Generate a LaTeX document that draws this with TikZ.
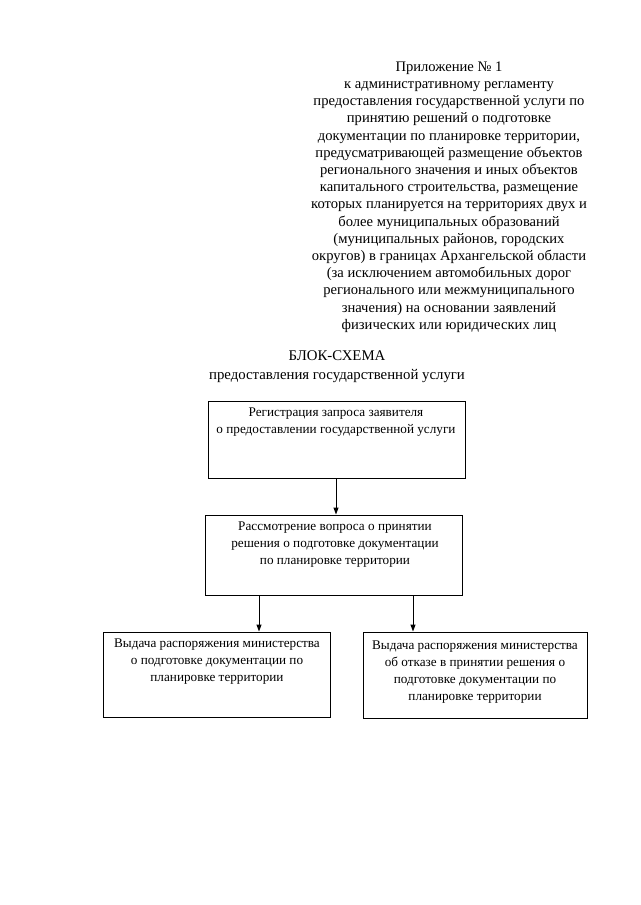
\documentclass[tikz,border=0pt]{standalone}
\usepackage{fontspec}
\setmainfont{Liberation Serif}
\usetikzlibrary{arrows.meta}
\begin{document}
\begin{tikzpicture}[x=1pt,y=-1pt,
  box/.style={draw, line width=1pt, inner sep=0pt},
  txt/.style={align=center, inner sep=0pt, font=\fontsize{13.2}{17}\selectfont},
  hdr/.style={align=center, inner sep=0pt, font=\fontsize{14.6}{17.2}\selectfont},
  ttl/.style={align=center, inner sep=0pt, font=\fontsize{14.8}{19}\selectfont},
  arr/.style={line width=1pt, -{Triangle[length=7pt,width=5pt]}},
  ln/.style={line width=1pt}]
\useasboundingbox (0,0) rectangle (640,905);
\fill[white] (0,0) rectangle (640,905);

\node[hdr] (head) at (449,197) {Приложение № 1\\
к административному регламенту\\
предоставления государственной услуги по\\
принятию решений о подготовке\\
документации по планировке территории,\\
предусматривающей размещение объектов\\
регионального значения и иных объектов\\
капитального строительства, размещение\\
которых планируется на территориях двух и\\
более муниципальных образований\\
(муниципальных районов, городских\\
округов) в границах Архангельской области\\
(за исключением автомобильных дорог\\
регионального или межмуниципального\\
значения) на основании заявлений\\
физических или юридических лиц};

\node[ttl] (title) at (337,367) {БЛОК-СХЕМА\\предоставления государственной услуги};

\node[box, minimum width=257pt, minimum height=77pt] (b1) at (336.5,439.5) {};
\node[txt] (t1) at (336,422) {Регистрация запроса заявителя\\о предоставлении государственной услуги};

\node[box, minimum width=257pt, minimum height=80pt] (b2) at (333.5,555) {};
\node[txt] (t2) at (335,545) {Рассмотрение вопроса о принятии\\решения о подготовке документации\\по планировке территории};

\node[box, minimum width=227pt, minimum height=85pt] (b3) at (216.5,674.5) {};
\node[txt] (t3) at (217,662) {Выдача распоряжения министерства\\о подготовке документации по\\планировке территории};

\node[box, minimum width=224pt, minimum height=86pt] (b4) at (475,675) {};
\node[txt] (t4) at (475,672) {Выдача распоряжения министерства\\об отказе в принятии решения о\\подготовке документации по\\планировке территории};

\draw[arr] (b1.south -| 336,0) -- (b2.north -| 336,0);
\draw[arr] (b2.south -| 259,0) -- (b3.north -| 259,0);
\draw[arr] (b2.south -| 413,0) -- (b4.north -| 413,0);
\end{tikzpicture}
\end{document}
